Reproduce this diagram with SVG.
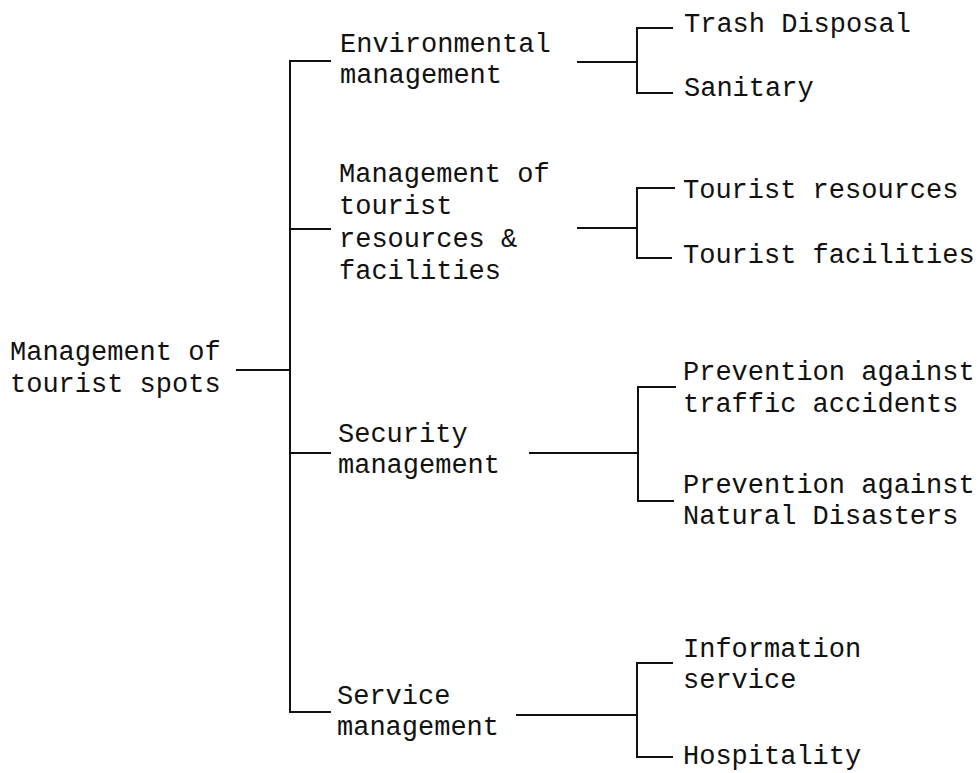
<svg xmlns="http://www.w3.org/2000/svg" width="979" height="773" viewBox="0 0 979 773">
  <style>
    text { font-family: "Liberation Mono", "DejaVu Sans Mono", monospace; font-size: 27px; fill: #111; }
    .link { fill: none; stroke: #111; stroke-width: 2; stroke-linecap: square; }
  </style>
  <rect width="979" height="773" fill="#fff"/>

  <!-- connectors -->
  <g id="connectors">
    <!-- root to trunk -->
    <path class="link" d="M237 370 H290"/>
    <path class="link" d="M330 61 H290 V712 H330"/>
    <path class="link" d="M290 229 H330"/>
    <path class="link" d="M290 453 H330"/>
    <!-- environmental -->
    <path class="link" d="M578 62 H637"/>
    <path class="link" d="M672 28 H637 V93 H672"/>
    <!-- resources & facilities -->
    <path class="link" d="M578 228 H637"/>
    <path class="link" d="M674 188 H637 V258 H671"/>
    <!-- security -->
    <path class="link" d="M530 453 H638"/>
    <path class="link" d="M675 387 H638 V501 H673"/>
    <!-- service -->
    <path class="link" d="M517 715 H637"/>
    <path class="link" d="M672 663 H637 V757 H672"/>
  </g>

  <g id="root">
    <text x="10" y="360">Management of</text>
    <text x="10" y="392">tourist spots</text>
  </g>

  <g id="environmental">
    <text x="340" y="52">Environmental</text>
    <text x="340" y="83">management</text>
  </g>
  <g id="resources-facilities">
    <text x="339" y="182">Management of</text>
    <text x="339" y="214">tourist</text>
    <text x="339" y="247">resources &amp;</text>
    <text x="339" y="279">facilities</text>
  </g>
  <g id="security">
    <text x="338" y="442">Security</text>
    <text x="338" y="473">management</text>
  </g>
  <g id="service">
    <text x="337" y="704">Service</text>
    <text x="337" y="735">management</text>
  </g>

  <g id="trash-disposal"><text x="684" y="32">Trash Disposal</text></g>
  <g id="sanitary"><text x="684" y="96">Sanitary</text></g>
  <g id="tourist-resources"><text x="683" y="198">Tourist resources</text></g>
  <g id="tourist-facilities"><text x="683" y="263">Tourist facilities</text></g>
  <g id="traffic-accidents">
    <text x="683" y="380">Prevention against</text>
    <text x="683" y="412">traffic accidents</text>
  </g>
  <g id="natural-disasters">
    <text x="683" y="493">Prevention against</text>
    <text x="683" y="524">Natural Disasters</text>
  </g>
  <g id="information-service">
    <text x="683" y="657">Information</text>
    <text x="683" y="688">service</text>
  </g>
  <g id="hospitality"><text x="683" y="764">Hospitality</text></g>
</svg>
